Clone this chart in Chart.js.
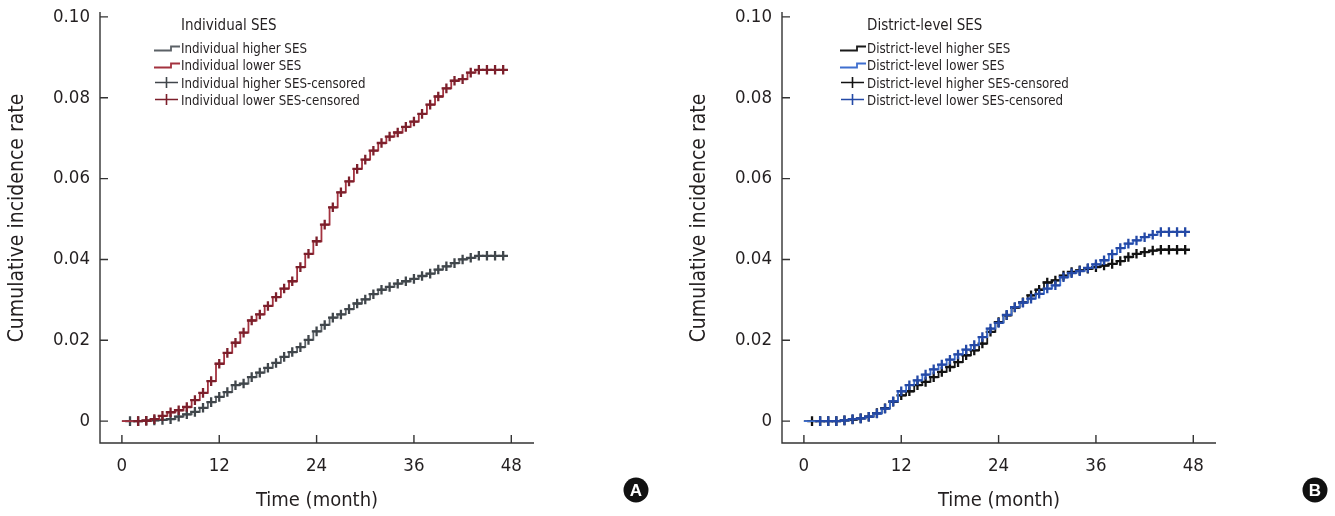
<!DOCTYPE html>
<html><head><meta charset="utf-8">
<script src="https://cdn.jsdelivr.net/npm/chart.js@4.4.1/dist/chart.umd.min.js"></script>
<style>
html,body{margin:0;padding:0;background:#fff;}
#wrap{position:relative;width:1335px;height:516px;overflow:hidden;}
.c{position:absolute;top:0;height:516px;}
</style></head><body>
<div id="wrap">
<div class="c" style="left:0;width:667px"><canvas id="cA"></canvas></div>
<div class="c" style="left:667px;width:668px"><canvas id="cB"></canvas></div>
</div>
<script>
// ---- axis ticks ----
const xTicks = [0, 12, 24, 36, 48];
const yTicks = [0, 0.02, 0.04, 0.06, 0.08, 0.10];
const yTickLabels = ['0', '0.02', '0.04', '0.06', '0.08', '0.10'];

// ---- months with events / censoring marks ----
const stepMonths = [1,2,3,4,5,6,7,8,9,10,11,12,13,14,15,16,17,18,19,20,21,22,23,24,25,26,27,28,29,30,31,32,33,34,35,36,37,38,39,40,41,42,43,44,45,46,47];
const censorMonthsHigher = [1,2,3,4,5,6,7,8,9,10,11,12,13,14,15,16,17,18,19,20,21,22,23,24,25,26,27,28,29,30,31,32,33,34,35,36,37,38,39,40,41,42,43,44,45,46,47];
const censorMonthsLower = [2,3,4,5,6,7,8,9,10,11,12,13,14,15,16,17,18,19,20,21,22,23,24,25,26,27,28,29,30,31,32,33,34,35,36,37,38,39,40,41,42,43,44,45,46,47];

// ---- Panel A: individual SES (cumulative incidence at each month) ----
const indHigher = [0,0,0.0001,0.0002,0.0003,0.0005,0.0011,0.0017,0.0023,0.0033,0.0047,0.0060,0.0072,0.0089,0.0093,0.0109,0.0120,0.0132,0.0144,0.0159,0.0171,0.0183,0.0201,0.0222,0.0238,0.0256,0.0264,0.0277,0.0291,0.0301,0.0314,0.0325,0.0332,0.0340,0.0346,0.0352,0.0359,0.0365,0.0375,0.0383,0.0391,0.0400,0.0404,0.0409,0.0409,0.0409,0.0409];
const indLower = [0,0,0.0001,0.0005,0.0013,0.0022,0.0027,0.0035,0.0052,0.0070,0.0099,0.0142,0.0169,0.0194,0.0219,0.0249,0.0264,0.0285,0.0307,0.0328,0.0346,0.0381,0.0414,0.0445,0.0486,0.0529,0.0566,0.0593,0.0624,0.0647,0.0669,0.0688,0.0704,0.0714,0.0728,0.0741,0.0760,0.0783,0.0803,0.0823,0.0842,0.0846,0.0862,0.0869,0.0869,0.0869,0.0869];

// ---- Panel B: district-level SES ----
const distHigher = [0,0,0,0,0.0002,0.0004,0.0007,0.0011,0.0020,0.0032,0.0048,0.0064,0.0074,0.0089,0.0097,0.0109,0.0122,0.0134,0.0146,0.0163,0.0175,0.0192,0.0221,0.0245,0.0262,0.0281,0.0294,0.0311,0.0325,0.0343,0.0348,0.0360,0.0369,0.0373,0.0377,0.0381,0.0385,0.0389,0.0396,0.0406,0.0414,0.0418,0.0422,0.0424,0.0424,0.0424,0.0424];
const distLower = [0,0,0,0,0.0002,0.0005,0.0007,0.0011,0.0019,0.0031,0.0049,0.0074,0.0089,0.0101,0.0115,0.0128,0.0140,0.0152,0.0165,0.0177,0.0188,0.0208,0.0229,0.0243,0.0263,0.0282,0.0293,0.0303,0.0315,0.0328,0.0336,0.0356,0.0366,0.0371,0.0379,0.0388,0.0398,0.0413,0.0428,0.0439,0.0447,0.0455,0.0461,0.0468,0.0468,0.0468,0.0468];

const FONT = "'Liberation Sans Narrow','Arial Narrow','DejaVu Sans Condensed',sans-serif";
const TXT = '#231f20';
const Y_TITLE = 'Cumulative incidence rate';

function stepData(vals) {
  const pts = [{x: 0, y: 0}];
  stepMonths.forEach((m, i) => {
    const isLast = i === stepMonths.length - 1;
    pts.push({x: isLast ? m : m - 0.4, y: vals[i]});
  });
  return pts;
}
function censorData(vals, months) {
  return months.map(m => ({x: m, y: vals[stepMonths.indexOf(m)]}));
}

const decoPlugin = {
  id: 'kmDeco',
  beforeDatasetsDraw(chart) {
    const {ctx, chartArea: a, scales: {x, y}} = chart;
    ctx.save();
    ctx.strokeStyle = '#333'; ctx.lineWidth = 1.4; ctx.lineCap = 'butt';
    ctx.beginPath();
    ctx.moveTo(a.left, a.top); ctx.lineTo(a.left, a.bottom); ctx.lineTo(a.right, a.bottom);
    xTicks.forEach(v => { const px = x.getPixelForValue(v); ctx.moveTo(px, a.bottom); ctx.lineTo(px, a.bottom - 8); });
    yTicks.forEach(v => { const py = y.getPixelForValue(v); ctx.moveTo(a.left, py); ctx.lineTo(a.left + 8, py); });
    ctx.stroke();
    ctx.restore();
  },
  afterDraw(chart, args, opts) {
    const {ctx, chartArea: a} = chart;
    ctx.save();
    // y-axis title
    ctx.save();
    ctx.translate(opts.ytx, opts.yty);
    ctx.rotate(-Math.PI / 2);
    ctx.fillStyle = TXT;
    ctx.font = '21px ' + FONT;
    ctx.textAlign = 'center'; ctx.textBaseline = 'middle';
    ctx.fillText(Y_TITLE, 0, 0);
    ctx.restore();
    // legend
    const lx = a.left + opts.dx;
    ctx.fillStyle = TXT;
    ctx.textBaseline = 'alphabetic'; ctx.textAlign = 'left';
    ctx.font = '15px ' + FONT;
    ctx.fillText(opts.title, lx, 30);
    const rows = [53, 70, 87.5, 104.5];
    ctx.font = '13.2px ' + FONT;
    chart.data.datasets.forEach((ds) => {
      const b = rows[ds.legendOrder];
      ctx.fillStyle = TXT;
      ctx.fillText(ds.label, lx, b);
      ctx.strokeStyle = ds.legendColor;
      ctx.beginPath();
      if (ds.kind === 'step') {
        ctx.lineWidth = 1.8;
        ctx.moveTo(lx - 27, b - 2.5); ctx.lineTo(lx - 10, b - 2.5); ctx.lineTo(lx - 10, b - 6.5); ctx.lineTo(lx - 1, b - 6.5);
      } else {
        ctx.lineWidth = 1.6;
        ctx.moveTo(lx - 26, b - 5); ctx.lineTo(lx - 3, b - 5);
        ctx.moveTo(lx - 14.5, b - 10.5); ctx.lineTo(lx - 14.5, b + 0.5);
      }
      ctx.stroke();
    });
    // panel badge
    ctx.fillStyle = '#111';
    ctx.beginPath(); ctx.arc(opts.bx, opts.by, 12.5, 0, Math.PI * 2); ctx.fill();
    ctx.fillStyle = '#fff';
    ctx.font = "bold 17px 'Liberation Sans',Arial,sans-serif";
    ctx.textAlign = 'center'; ctx.textBaseline = 'middle';
    ctx.fillText(opts.badge, opts.bx, opts.by + 1);
    ctx.restore();
  }
};

function makeChart(id, c) {
  const datasets = [
    {label: c.labels[0], kind: 'step', legendOrder: 0, legendColor: c.colHiLine, data: stepData(c.hi), showLine: true, stepped: true, borderColor: c.colHiLine, borderWidth: 1.8, pointRadius: 0, order: 4},
    {label: c.labels[1], kind: 'step', legendOrder: 1, legendColor: c.colLoLine, data: stepData(c.lo), showLine: true, stepped: true, borderColor: c.colLoLine, borderWidth: 1.8, pointRadius: 0, order: 2},
    {label: c.labels[2], kind: 'cross', legendOrder: 2, legendColor: c.colHiMark, data: censorData(c.hi, censorMonthsHigher), showLine: false, pointStyle: 'cross', pointRadius: 4.8, pointBorderWidth: 2.3, borderColor: c.colHiMark, backgroundColor: c.colHiMark, order: 3},
    {label: c.labels[3], kind: 'cross', legendOrder: 3, legendColor: c.colLoMark, data: censorData(c.lo, censorMonthsLower), showLine: false, pointStyle: 'cross', pointRadius: 4.8, pointBorderWidth: 2.3, borderColor: c.colLoMark, backgroundColor: c.colLoMark, order: 1}
  ];
  return new Chart(document.getElementById(id), {
    type: 'scatter',
    data: {datasets},
    plugins: [decoPlugin],
    options: {
      responsive: true, maintainAspectRatio: false, animation: false,
      layout: {padding: {top: 12, right: c.padRight, bottom: 0, left: 0}},
      plugins: {
        legend: {display: false}, tooltip: {enabled: false},
        kmDeco: {title: c.title, dx: c.legendDx, badge: c.badge, bx: c.bx, by: 490, ytx: c.ytx, yty: 218}
      },
      scales: {
        x: {
          type: 'linear', min: -2.7, max: 50.8,
          afterBuildTicks: s => { s.ticks = xTicks.map(v => ({value: v})); },
          afterFit: s => { s.height = 73; s.paddingLeft = 0; s.paddingRight = 0; },
          grid: {display: false, drawTicks: false}, border: {display: false},
          ticks: {padding: 12, color: TXT, font: {family: FONT, size: 18.5}, maxRotation: 0, autoSkip: false, callback: v => String(v)},
          title: {display: true, text: 'Time (month)', color: TXT, font: {family: FONT, size: 20}, padding: {top: 3, bottom: 3}}
        },
        y: {
          type: 'linear', min: -0.0054, max: 0.1012,
          afterBuildTicks: s => { s.ticks = yTicks.map(v => ({value: v})); },
          afterFit: s => { s.width = c.yWidth; s.paddingTop = 0; s.paddingBottom = 0; },
          grid: {display: false, drawTicks: false}, border: {display: false},
          ticks: {padding: 10, color: TXT, font: {family: FONT, size: 18.5}, autoSkip: false, callback: (v, i) => yTickLabels[i]},
          title: {display: false}
        }
      }
    }
  });
}

makeChart('cA', {
  title: 'Individual SES',
  labels: ['Individual higher SES', 'Individual lower SES', 'Individual higher SES-censored', 'Individual lower SES-censored'],
  hi: indHigher, lo: indLower,
  colHiLine: '#5b6166', colLoLine: '#a3323f', colHiMark: '#40464b', colLoMark: '#7c1f2b',
  padRight: 133, yWidth: 100, legendDx: 81, badge: 'A', bx: 636, ytx: 18
});
makeChart('cB', {
  title: 'District-level SES',
  labels: ['District-level higher SES', 'District-level lower SES', 'District-level higher SES-censored', 'District-level lower SES-censored'],
  hi: distHigher, lo: distLower,
  colHiLine: '#1a1a1a', colLoLine: '#3f6fcf', colHiMark: '#111111', colLoMark: '#2449a6',
  padRight: 119, yWidth: 115, legendDx: 85, badge: 'B', bx: 648, ytx: 33
});
</script>
</body></html>
